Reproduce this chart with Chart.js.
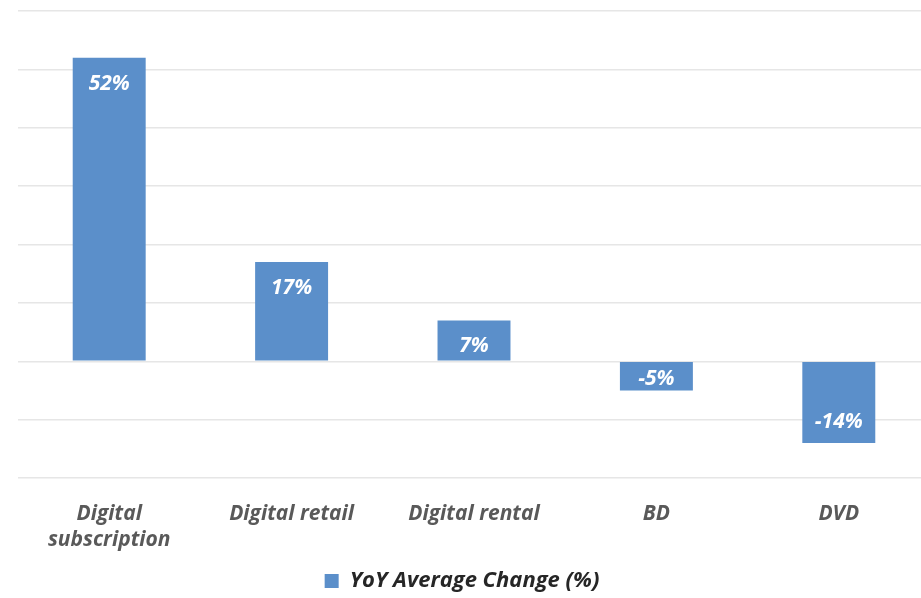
<!DOCTYPE html>
<html>
<head>
<meta charset="utf-8">
<script src="https://cdn.jsdelivr.net/npm/chart.js@4"></script>
<style>
html,body{margin:0;padding:0;background:#fff;overflow:hidden;}
#wrap{position:relative;width:932px;height:598px;}
</style>
</head>
<body>
<div id="wrap"><canvas id="c"></canvas></div>
<script>
const categories = [["Digital","subscription"], "Digital retail", "Digital rental", "BD", "DVD"];
const values = [52, 17, 7, -5, -14];
const valueLabels = ["52%", "17%", "7%", "-5%", "-14%"];
const seriesName = "YoY Average Change (%)";
const yMin = -20, yMax = 60, yStep = 10;

const FONT = "'Open Sans', sans-serif";
const barColor = "#5b8fca";

const labelPlugin = {
  id: "insideLabels",
  afterLayout(chart) {
    // centre the legend on the visible page width
    const lg = chart.legend;
    if (lg) { lg.left -= 12; lg.right -= 12; }
  },
  afterDatasetsDraw(chart) {
    const ctx = chart.ctx;
    const meta = chart.getDatasetMeta(0);
    ctx.save();
    ctx.fillStyle = "#ffffff";
    ctx.font = "italic bold 21px " + FONT;
    ctx.textAlign = "center";
    ctx.textBaseline = "middle";
    meta.data.forEach((bar, i) => {
      const v = values[i];
      const top = Math.min(bar.y, bar.base);
      const bottom = Math.max(bar.y, bar.base);
      const h = bottom - top;
      let y;
      if (v >= 0) y = top + Math.min(26, h * 0.65);
      else y = bottom - Math.min(21, h * 0.4);
      ctx.fillText(valueLabels[i], bar.x, y);
    });
    ctx.restore();
  }
};

new Chart(document.getElementById("c"), {
  type: "bar",
  data: {
    labels: categories,
    datasets: [{
      label: seriesName,
      data: values,
      backgroundColor: barColor,
      borderWidth: 0,
      barPercentage: 0.8,
      categoryPercentage: 0.5
    }]
  },
  options: {
    responsive: true,
    maintainAspectRatio: false,
    animation: false,
    layout: { padding: { top: 11, left: 18, right: 2, bottom: -4 } },
    plugins: {
      tooltip: { enabled: false },
      legend: {
        position: "bottom",
        labels: {
          boxWidth: 14,
          boxHeight: 14,
          color: "#262626",
          padding: 1.5,
          font: { family: FONT, size: 22, style: "italic", weight: "bold" }
        }
      }
    },
    scales: {
      x: {
        grid: { display: false },
        border: { display: false },
        ticks: {
          color: "#595959",
          padding: 15,
          maxRotation: 0,
          autoSkip: false,
          font: { family: FONT, size: 21, style: "italic", weight: "bold", lineHeight: 1.25 }
        }
      },
      y: {
        min: yMin,
        max: yMax,
        ticks: { display: false, stepSize: yStep },
        border: { display: false },
        grid: { color: "#e6e6e6", lineWidth: 1.5, drawTicks: false }
      }
    }
  },
  plugins: [labelPlugin]
});
</script>
</body>
</html>
